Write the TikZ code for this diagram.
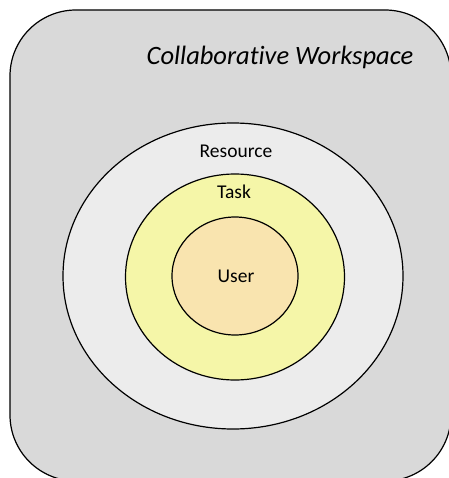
\documentclass[tikz,border=0pt]{standalone}
\usepackage{fontspec}
\setmainfont{Carlito}[Ligatures=NoCommon]
\usepackage{tikz}
\usetikzlibrary{shapes.geometric}
\usetikzlibrary{positioning}

\definecolor{spacegray}{HTML}{D9D9D9}
\definecolor{resgray}{HTML}{ECECEC}
\definecolor{taskyellow}{HTML}{F5F6A8}
\definecolor{userpeach}{HTML}{F9E4AF}

\tikzset{
  ring/.style={ellipse, draw=black, line width=1.2pt, inner sep=0pt},
  ringlabel/.style={font=\fontsize{19.5}{23}\selectfont, inner sep=0pt}
}

\begin{document}
\begin{tikzpicture}[x=1pt,y=-1pt]
\useasboundingbox (0,0) rectangle (448,478);
\draw[fill=spacegray, line width=1.2pt, rounded corners=66pt] (10,10) rectangle (451,481);
\node[font=\fontsize{26.5}{30}\selectfont\itshape, inner sep=0pt] (title) at (280,57) {Collaborative Workspace};
\node[ring, fill=resgray, minimum width=340pt, minimum height=306pt] (resource) at (233,276) {};
\node[ring, fill=taskyellow, minimum width=219pt, minimum height=206pt] (task) at (235,277) {};
\node[ring, fill=userpeach, minimum width=126pt, minimum height=118pt] (user) at (235,276) {};
\node[ringlabel] at (236,151) (reslabel) {Resource};
\node[ringlabel] at (234,192) (tasklabel) {Task};
\node[ringlabel] at (236,276) (userlabel) {User};
\end{tikzpicture}
\end{document}
